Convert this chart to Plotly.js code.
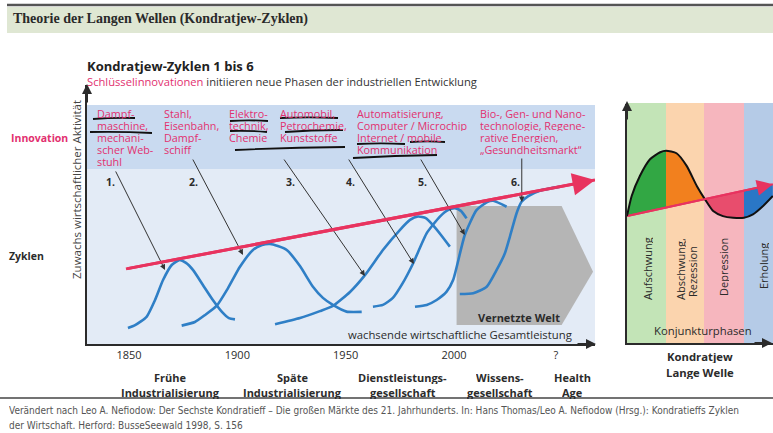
<!DOCTYPE html>
<html><head><meta charset="utf-8">
<script src="https://cdn.plot.ly/plotly-3.0.1.min.js"></script>
<style>html,body{margin:0;padding:0;background:#fff}#chart{width:773px;height:433px}</style>
</head><body><div id="chart"></div>
<script>
// ---------------- DATA ----------------
const tickYears = [1850, 1900, 1950, 2000, 2047];
const tickLabels = ['1850', '1900', '1950', '2000', '?'];

const trendYears = [1848.6, 2065.1];
const trendValues = [29.0, 63.3];

const cycle1Years = [1849.5, 1852.8, 1858.1, 1862.0, 1865.7, 1869.7, 1873.2, 1876.3, 1879.5, 1884.1, 1888.7, 1892.9, 1896.1, 1898.9];
const cycle1Values = [6.2, 7.3, 10.5, 17.0, 24.7, 30.5, 32.4, 31.3, 28.6, 22.8, 17.0, 12.4, 10.0, 9.5];

const cycle2Years = [1874.3, 1880.4, 1885.1, 1890.5, 1895.7, 1901.2, 1907.2, 1911.4, 1915.1, 1918.7, 1922.8, 1928.9, 1934.9, 1939.5, 1944.1, 1950.4, 1957.4];
const cycle2Values = [7.1, 8.5, 11.2, 14.8, 21.6, 29.8, 36.3, 38.2, 38.6, 37.8, 36.3, 30.1, 22.1, 17.8, 15.1, 12.5, 12.4];

const cycle3Years = [1917.4, 1928.9, 1938.1, 1944.1, 1952.0, 1958.9, 1967.2, 1975.0, 1979.7, 1983.4, 1987.0, 1990.3, 1994.0, 1998.1];
const cycle3Values = [7.6, 10.0, 12.7, 14.7, 20.1, 26.6, 36.3, 44.0, 47.9, 49.2, 48.6, 45.9, 42.1, 37.6];

const cycle4Years = [1962.6, 1967.2, 1971.8, 1976.4, 1981.0, 1987.5, 1993.5, 1997.2, 2000.4, 2003.2, 2005.8];
const cycle4Values = [14.4, 15.1, 17.8, 23.6, 30.9, 42.9, 49.2, 51.7, 52.4, 51.4, 48.5];

const cycle5Years = [1982.0, 1987.4, 1992.0, 1996.6, 1999.6, 2005.0, 2010.4, 2015.1, 2018.1, 2024.3];
const cycle5Values = [14.4, 15.1, 17.0, 20.2, 24.7, 42.1, 51.7, 54.7, 55.3, 53.0];

const cycle6Years = [2002.7, 2008.9, 2015.1, 2019.7, 2023.5, 2025.8, 2028.9, 2031.2, 2034.3, 2039.6, 2048.9];
const cycle6Values = [19.3, 19.6, 22.1, 28.6, 35.0, 41.4, 50.5, 54.9, 57.1, 59.2, 60.7];

const vernetztYears = [2001.2, 2049.7, 2064.2, 2049.7, 2001.2];
const vernetztValues = [53.3, 53.3, 27.9, 7.3, 7.3];

const innovations = [
  ['Dampf-', 'maschine,', 'mechani-', 'scher Web-', 'stuhl'],
  ['Stahl,', 'Eisenbahn,', 'Dampf-', 'schiff'],
  ['Elektro-', 'technik,', 'Chemie'],
  ['Automobil,', 'Petrochemie,', 'Kunststoffe'],
  ['Automatisierung,', 'Computer / Microchip', 'Internet / mobile', 'Kommunikation'],
  ['Bio-, Gen- und Nano-', 'technologie, Regene-', 'rative Energien,', '„Gesundheitsmarkt“']
];
const cycleNumbers = ['1.', '2.', '3.', '4.', '5.', '6.'];
const eraLabels = [['Frühe', 'Industrialisierung'], ['Späte', 'Industrialisierung'], ['Dienstleistungs-', 'gesellschaft'], ['Wissens-', 'gesellschaft'], ['Health', 'Age']];

// Right panel: long wave (phase units)
const phaseNames = ['Aufschwung', 'Abschwung,', 'Rezession', 'Depression', 'Erholung'];
const phaseEdges = [0, 1, 2, 3, 3.74];
const waveX = [0, 0.12, 0.33, 0.59, 0.85, 1.0, 1.27, 1.53, 1.79, 2.0, 2.21, 2.46, 2.72, 3.0, 3.23, 3.49, 3.74];
const waveY = [53.1, 61.5, 69.9, 76.9, 79.8, 80.4, 79.4, 74.1, 65.7, 60.1, 55.2, 53.1, 52.4, 52.4, 53.8, 57.3, 61.5];
const waveTrendX = [0, 3.74];
const waveTrendY = [53.1, 66.4];

// ---------------- STYLE / LAYOUT ----------------
const W = 773, H = 433;
const X = v => v / W, Y = v => 1 - v / H;
const SANS = 'Open Sans, Noto Sans, sans-serif';
const SERIF = 'Liberation Serif, DejaVu Serif, serif';
const DARK = '#2b2b2b', PINK = '#e2306f', BLUE = '#2f7fc6', RED = '#e8335f';
const phaseBg = ['#c3e4b7', '#fbd4ae', '#f6b6be', '#b5cbe7'];
const phaseFill = ['#32a744', '#f2801e', '#e84d6d', '#2a77c6'];

const ann = [];
function t(x, y, text, o) {
  o = o || {};
  ann.push(Object.assign({
    xref: 'paper', yref: 'paper', x: X(x), y: Y(y), text: text, showarrow: false,
    xanchor: 'left', yanchor: 'middle', borderpad: 0,
    font: {family: SANS, size: 11, color: DARK}
  }, o));
}

const traces = [];
traces.push({x: vernetztYears, y: vernetztValues, type: 'scatter', mode: 'lines', fill: 'toself',
  fillcolor: '#b5b5b5', line: {width: 0, color: '#b5b5b5'}, hoverinfo: 'skip', xaxis: 'x', yaxis: 'y'});
traces.push({x: trendYears, y: trendValues, type: 'scatter', mode: 'lines',
  line: {color: RED, width: 3}, hoverinfo: 'skip', xaxis: 'x', yaxis: 'y'});
[[cycle1Years, cycle1Values], [cycle2Years, cycle2Values], [cycle3Years, cycle3Values],
 [cycle4Years, cycle4Values], [cycle5Years, cycle5Values], [cycle6Years, cycle6Values]].forEach(c => {
  traces.push({x: c[0], y: c[1], type: 'scatter', mode: 'lines',
    line: {color: BLUE, width: 2.6, shape: 'spline', smoothing: 0.55}, hoverinfo: 'skip', xaxis: 'x', yaxis: 'y'});
});

function trendAt(x) {
  const f = (x - waveTrendX[0]) / (waveTrendX[1] - waveTrendX[0]);
  return waveTrendY[0] + f * (waveTrendY[1] - waveTrendY[0]);
}
for (let i = 0; i < 4; i++) {
  const a = phaseEdges[i], b = phaseEdges[i + 1];
  const xs = [], ys = [];
  waveX.forEach((x, k) => { if (x >= a - 1e-9 && x <= b + 1e-9) { xs.push(x); ys.push(waveY[k]); } });
  xs.push(b, a); ys.push(trendAt(b), trendAt(a));
  traces.push({x: xs, y: ys, type: 'scatter', mode: 'lines', fill: 'toself', fillcolor: phaseFill[i],
    line: {width: 0, color: phaseFill[i]}, hoverinfo: 'skip', xaxis: 'x2', yaxis: 'y2'});
}
traces.push({x: waveTrendX, y: waveTrendY, type: 'scatter', mode: 'lines', line: {color: RED, width: 2},
  hoverinfo: 'skip', xaxis: 'x2', yaxis: 'y2'});
traces.push({x: waveX, y: waveY, type: 'scatter', mode: 'lines', line: {color: '#111', width: 2, shape: 'spline', smoothing: 0.6},
  hoverinfo: 'skip', xaxis: 'x2', yaxis: 'y2'});

const shapes = [];
function rect(x0, y0, x1, y1, color, layer) {
  shapes.push({type: 'rect', xref: 'paper', yref: 'paper', x0: X(x0), x1: X(x1), y0: Y(y1), y1: Y(y0),
    fillcolor: color, line: {width: 0}, layer: layer || 'below'});
}
function uline(x0, y0, x1, y1, w) {
  const mx = (x0 + x1) / 2, my = (y0 + y1) / 2 - 1.2;
  shapes.push({type: 'path', xref: 'paper', yref: 'paper',
    path: 'M' + X(x0) + ',' + Y(y0) + ' Q' + X(mx) + ',' + Y(my) + ' ' + X(x1) + ',' + Y(y1),
    line: {color: '#111', width: w || 1.8}, layer: 'above'});
}
rect(7, 7, W, 33, '#dfe7d3');
shapes.push({type: 'line', xref: 'paper', yref: 'paper', x0: X(7), x1: 1, y0: Y(5), y1: Y(5), line: {color: '#555', width: 2.5}});
rect(87, 105, 595, 169, '#c9daf0');
rect(87, 169, 595, 344, '#e3ebf6');
const edgesPx = [627, 666, 704, 744, 773];
for (let i = 0; i < 4; i++) rect(edgesPx[i], 103, edgesPx[i + 1], 343, phaseBg[i]);
shapes.push({type: 'line', xref: 'paper', yref: 'paper', x0: 0, x1: 1, y0: Y(398), y1: Y(398), line: {color: '#444', width: 1.5}});
uline(93, 119, 135, 118);
uline(90, 132, 152, 133);
uline(230, 121, 268, 121);
uline(230, 131, 267, 132);
uline(280, 118, 338, 118);
uline(285, 132, 343, 130);
uline(235, 150, 345, 147);
uline(357, 144, 405, 144);
uline(410, 142, 445, 142);
uline(353, 158, 437, 155);

t(12, 19, 'Theorie der Langen Wellen (Kondratjew-Zyklen)', {font: {family: SERIF, size: 14, color: '#2a2a2a', weight: 'bold'}});
t(86, 66, '<b>Kondratjew-Zyklen 1 bis 6</b>', {font: {family: SANS, size: 13, color: '#222'}});
t(86, 81, '<span style="color:' + PINK + '">Schlüsselinnovationen</span> initiieren neue Phasen der industriellen Entwicklung', {font: {family: SANS, size: 11.2, color: '#333'}});
t(10, 138, '<b>Innovation</b>', {font: {family: SANS, size: 10.5, color: PINK}});
t(8, 256, '<b>Zyklen</b>', {font: {family: SANS, size: 10.5, color: DARK}});
t(76, 190, 'Zuwachs wirtschaftlicher Aktivität', {textangle: -90, xanchor: 'center', font: {family: SANS, size: 11.5, color: '#444'}});

const blockX = [96, 163, 228, 279, 356, 479];
innovations.forEach((lines, i) => {
  lines.forEach((ln, k) => t(blockX[i], 113 + 12 * k, ln, {height: 12, valign: 'middle', font: {family: SANS, size: 10.8, color: PINK}}));
});
const numX = [110, 193, 290, 350, 423, 515];
cycleNumbers.forEach((n, i) => t(numX[i], 182, '<b>' + n + '</b>', {xanchor: 'center', font: {family: SANS, size: 10.5, color: DARK}}));

t(519, 317, '<b>Vernetzte Welt</b>', {xanchor: 'center', font: {family: SANS, size: 11, color: DARK}});
t(573, 334, 'wachsende wirtschaftliche Gesamtleistung', {xanchor: 'right', font: {family: SANS, size: 11.3, color: DARK}});

const eraX = [170, 292, 403, 500, 572];
eraLabels.forEach((lines, i) => {
  lines.forEach((ln, k) => t(eraX[i], 377 + 15 * k, '<b>' + ln + '</b>', {xanchor: 'center', height: 14, font: {family: SANS, size: 11, color: DARK}}));
});

const phaseLabelX = [647, 680, 692, 723, 763];
const phaseLabelY = [269, 269, 272, 267, 266];
phaseNames.forEach((n, i) => t(phaseLabelX[i], phaseLabelY[i], n, {textangle: -90, xanchor: 'center', height: 12, font: {family: SANS, size: 11, color: DARK}}));
t(703, 330, 'Konjunkturphasen', {xanchor: 'center', font: {family: SANS, size: 11.3, color: DARK}});
t(700, 356, '<b>Kondratjew</b>', {xanchor: 'center', height: 14, font: {family: SANS, size: 11.3, color: DARK}});
t(700, 372, '<b>Lange Welle</b>', {xanchor: 'center', height: 14, font: {family: SANS, size: 11.3, color: DARK}});

const FOOT = 'Liberation Sans Narrow, DejaVu Sans Condensed, Roboto, sans-serif';
t(8, 410, 'Verändert nach Leo A. Nefiodow: Der Sechste Kondratieff – Die großen Märkte des 21. Jahrhunderts. In: Hans Thomas/Leo A. Nefiodow (Hrsg.): Kondratieffs Zyklen', {height: 13, font: {family: FOOT, size: 10, color: '#555'}});
t(8, 425, 'der Wirtschaft. Herford: BusseSeewald 1998, S. 156', {height: 13, font: {family: FOOT, size: 10, color: '#555'}});

const arrowTail = [[1843.5, 67.2], [1879.1, 71.8], [1921.1, 71.8], [1951.0, 71.8], [1984.3, 71.8], [2031.3, 72.2]];
const arrowTip = [[1866.6, 28.6], [1902.6, 34.4], [1958.9, 26.3], [1981.5, 30.9], [2005.0, 42.1], [2031.3, 54.8]];
arrowTip.forEach((tp, i) => ann.push({xref: 'x', yref: 'y', axref: 'x', ayref: 'y', x: tp[0], y: tp[1],
  ax: arrowTail[i][0], ay: arrowTail[i][1], text: '', showarrow: true, arrowhead: 2, arrowsize: 1.1,
  arrowwidth: 1, arrowcolor: '#333', standoff: 0}));
ann.push({xref: 'x', yref: 'y', axref: 'x', ayref: 'y', x: trendYears[1], y: trendValues[1], ax: trendYears[0], ay: trendValues[0],
  text: '', showarrow: true, arrowhead: 2, arrowsize: 1.5, arrowwidth: 3, arrowcolor: RED, standoff: 0});
ann.push({xref: 'x2', yref: 'y2', axref: 'x2', ayref: 'y2', x: waveTrendX[1], y: waveTrendY[1], ax: waveTrendX[0], ay: waveTrendY[0],
  text: '', showarrow: true, arrowhead: 2, arrowsize: 1.6, arrowwidth: 2, arrowcolor: RED, standoff: 0});
function axArrow(x, y, ax, ay) {
  ann.push({xref: 'paper', yref: 'paper', x: X(x), y: Y(y), ax: ax, ay: ay, text: '', showarrow: true,
    arrowhead: 2, arrowsize: 1, arrowwidth: 2, arrowcolor: DARK, standoff: 0});
}
axArrow(87, 84, 0, 20);
axArrow(596, 344, -20, 0);
axArrow(627, 101, 0, 20);
axArrow(773, 343, -20, 0);

const axisBase = {showgrid: false, zeroline: false, fixedrange: true, showline: true, linecolor: DARK, linewidth: 2, ticks: ''};
const layout = {
  width: W, height: H, margin: {l: 0, r: 0, t: 0, b: 0},
  paper_bgcolor: '#fff', plot_bgcolor: 'rgba(0,0,0,0)', showlegend: false,
  xaxis: Object.assign({}, axisBase, {domain: [X(87), X(595)], range: [1830.6, 2065.1], anchor: 'y',
    tickmode: 'array', tickvals: tickYears, ticktext: tickLabels, tickfont: {family: SANS, size: 11, color: DARK}}),
  yaxis: Object.assign({}, axisBase, {domain: [Y(344), Y(85)], range: [0, 100], anchor: 'x', showticklabels: false}),
  xaxis2: Object.assign({}, axisBase, {domain: [X(627), 1], range: [0, 3.744], anchor: 'y2', showticklabels: false}),
  yaxis2: Object.assign({}, axisBase, {domain: [Y(343), Y(104)], range: [0, 100], anchor: 'x2', showticklabels: false}),
  shapes: shapes, annotations: ann
};
Plotly.newPlot('chart', traces, layout, {staticPlot: true, displayModeBar: false});
</script></body></html>
